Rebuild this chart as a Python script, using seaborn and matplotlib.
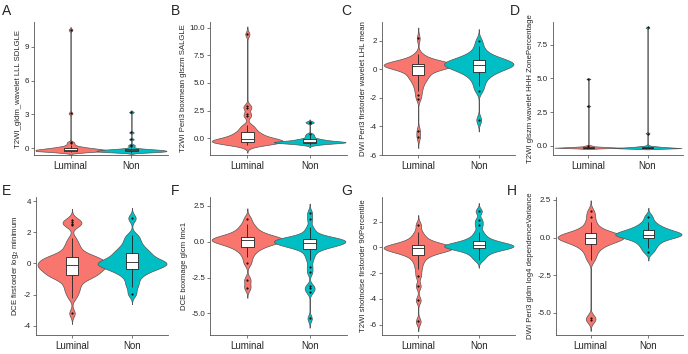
import numpy as np
import pandas as pd
import seaborn as sns
import matplotlib.pyplot as plt
from matplotlib.ticker import FormatStrFormatter

groups = ['Luminal', 'Non']
letters = ['A', 'B', 'C', 'D', 'E', 'F', 'G', 'H']
ylabels = ['T2WI_gldm_wavelet LLL SDLGLE',
           'T2WI Peri3 boxmean glszm SALGLE',
           'DWI Peri3 firstorder wavelet LHL mean',
           'T2WI glszm wavelet HHH ZonePercentage',
           'DCE firstorder log$_2$ minimum',
           'DCE boxmage glcm Imc1',
           'T2WI shotnoise firstorder 90Percentile',
           'DWI Peri3 gldm log4 dependenceVariance']

# values, one list per group and panel
a_lum = [-0.33, -0.31, -0.3, -0.29, -0.28, -0.27, -0.26, -0.25, -0.24, -0.23, -0.22, -0.21, -0.2,
         -0.19, -0.18, -0.17, -0.15, -0.14, -0.12, -0.11, -0.1, -0.09, -0.07, -0.05, -0.04, -0.02,
         0.0, 0.02, 0.05, 0.08, 0.11, 0.15, 0.2, 0.32, 0.45, 0.55, 3.1, 10.5]
a_non = [-0.38, -0.36, -0.35, -0.34, -0.33, -0.32, -0.31, -0.3, -0.29, -0.28, -0.27, -0.26, -0.25,
         -0.24, -0.23, -0.22, -0.21, -0.2, -0.19, -0.18, -0.17, -0.16, -0.15, -0.14, -0.12, -0.11,
         -0.1, -0.08, -0.06, -0.03, 0.05, 0.2, 0.3, 0.8, 1.4, 3.2]
b_lum = [-0.6, -0.55, -0.5, -0.45, -0.42, -0.4, -0.38, -0.35, -0.33, -0.3, -0.28, -0.25, -0.22,
         -0.2, -0.18, -0.15, -0.12, -0.1, -0.05, 0.0, 0.05, 0.1, 0.2, 0.3, 0.35, 0.4, 0.5, 0.6,
         0.75, 0.9, 1.05, 1.2, 2.0, 2.2, 2.75, 2.9, 9.4]
b_non = [-0.6, -0.55, -0.5, -0.48, -0.46, -0.44, -0.42, -0.4, -0.39, -0.38, -0.37, -0.36, -0.35,
         -0.34, -0.33, -0.32, -0.31, -0.3, -0.28, -0.26, -0.25, -0.23, -0.2, -0.18, -0.15, -0.12,
         -0.08, -0.05, 0.0, 0.1, 0.2, 0.3, 0.42, 1.4, 1.5]
c_lum = [-4.75, -4.3, -2.05, -1.8, -1.5, -1.3, -1.1, -0.95, -0.8, -0.7, -0.6, -0.5, -0.45, -0.4,
         -0.3, -0.2, -0.1, -0.05, 0.0, 0.05, 0.1, 0.12, 0.15, 0.18, 0.2, 0.2, 0.22, 0.25, 0.25,
         0.28, 0.3, 0.3, 0.32, 0.33, 0.35, 0.35, 0.38, 0.4, 0.4, 0.42, 0.45, 0.48, 0.5, 0.55,
         0.6, 0.7, 0.8, 0.95, 1.05, 2.15]
c_non = [-3.55, -1.5, -1.2, -0.9, -0.7, -0.5, -0.35, -0.25, -0.2, -0.1, 0.0, 0.05, 0.1, 0.15, 0.2,
         0.25, 0.3, 0.32, 0.35, 0.38, 0.4, 0.45, 0.5, 0.55, 0.6, 0.65, 0.72, 0.78, 0.85, 0.95,
         1.1, 1.3, 1.6, 2.0]
d_lum = [-0.2, -0.2, -0.19, -0.19, -0.18, -0.18, -0.18, -0.17, -0.17, -0.17, -0.16, -0.16, -0.16,
         -0.15, -0.15, -0.15, -0.14, -0.14, -0.13, -0.13, -0.12, -0.12, -0.11, -0.1, -0.09,
         -0.08, -0.05, -0.03, 0.0, 2.95, 4.95]
d_non = [-0.21, -0.2, -0.2, -0.19, -0.19, -0.18, -0.18, -0.17, -0.17, -0.16, -0.16, -0.16, -0.15,
         -0.15, -0.14, -0.14, -0.13, -0.13, -0.12, -0.11, -0.1, -0.08, -0.05, -0.02, 0.9, 8.8]
e_lum = [-3.2, -2.2, -1.9, -1.7, -1.5, -1.3, -1.15, -1.0, -0.9, -0.85, -0.8, -0.75, -0.7, -0.6,
         -0.55, -0.5, -0.45, -0.4, -0.35, -0.3, -0.25, -0.2, -0.15, -0.1, -0.1, -0.05, 0.0, 0.05,
         0.1, 0.15, 0.2, 0.25, 0.3, 0.35, 0.4, 0.45, 0.5, 0.6, 0.75, 0.9, 1.1, 1.3, 1.6, 2.45,
         2.55, 2.65, 2.8]
e_non = [-1.95, -1.5, -1.2, -0.9, -0.7, -0.55, -0.45, -0.35, -0.3, -0.2, -0.15, -0.1, -0.05, 0.0,
         0.05, 0.1, 0.15, 0.2, 0.3, 0.4, 0.5, 0.6, 0.7, 0.8, 0.95, 1.1, 1.3, 1.55, 1.8, 2.9]
f_lum = [-3.2, -2.65, -1.5, -1.1, -0.8, -0.6, -0.45, -0.35, -0.25, -0.15, -0.1, -0.05, 0.0, 0.05,
         0.1, 0.12, 0.15, 0.18, 0.2, 0.25, 0.3, 0.35, 0.45, 0.55, 0.65, 0.8, 1.0, 1.2, 1.6]
f_non = [-5.35, -3.5, -3.25, -3.1, -2.15, -1.75, -1.3, -1.0, -0.8, -0.6, -0.45, -0.4, -0.35, -0.3,
         -0.28, -0.25, -0.2, -0.15, -0.12, -0.1, -0.08, -0.05, 0.0, 0.02, 0.05, 0.08, 0.1, 0.12,
         0.15, 0.18, 0.2, 0.22, 0.25, 0.3, 0.4, 0.55, 0.75, 1.0, 1.55, 2.0]
g_lum = [-5.75, -4.1, -3.0, -2.2, -1.7, -1.3, -1.0, -0.8, -0.6, -0.5, -0.42, -0.35, -0.3, -0.25,
         -0.2, -0.15, -0.1, -0.08, -0.05, -0.02, 0.0, 0.02, 0.05, 0.1, 0.15, 0.2, 0.25, 0.3, 0.4,
         0.55, 0.7, 0.9, 1.2, 1.75]
g_non = [-0.95, -0.7, -0.5, -0.35, -0.25, -0.15, -0.1, -0.05, 0.0, 0.03, 0.06, 0.1, 0.13, 0.16,
         0.2, 0.25, 0.3, 0.38, 0.45, 0.55, 0.7, 0.9, 1.2, 1.7, 2.1, 2.8]
h_lum = [-5.5, -5.35, -1.5, -1.2, -0.95, -0.75, -0.6, -0.5, -0.4, -0.32, -0.25, -0.2, -0.15, -0.1,
         -0.06, -0.03, 0.0, 0.03, 0.06, 0.1, 0.15, 0.2, 0.25, 0.3, 0.35, 0.45, 0.6, 0.8, 1.05,
         1.4, 1.75]
h_non = [-0.95, -0.7, -0.5, -0.35, -0.2, -0.1, -0.02, 0.05, 0.1, 0.15, 0.18, 0.2, 0.23, 0.27,
         0.32, 0.38, 0.45, 0.52, 0.6, 0.7, 0.85, 1.05, 1.4]

panel_values = [(a_lum, a_non), (b_lum, b_non), (c_lum, c_non), (d_lum, d_non),
                (e_lum, e_non), (f_lum, f_non), (g_lum, g_non), (h_lum, h_non)]

yticks = [[0, 3, 6, 9], [0, 2.5, 5, 7.5, 10], [-6, -4, -2, 0, 2], [0, 2.5, 5, 7.5],
          [-4, -2, 0, 2, 4], [-5, -2.5, 0, 2.5], [-6, -4, -2, 0, 2], [-5, -2.5, 0, 2.5]]
yfmt = ['%g', '%.1f', '%g', '%.1f', '%g', '%.1f', '%g', '%.1f']
ylims = [(-0.6, 11.2), (-1.5, 10.5), (-6, 3.3), (-0.7, 9.2),
         (-4.6, 4.26), (-6.5, 3.1), (-6.8, 3.9), (-6.5, 2.7)]
bw_adjust = [1, 0.8, 1, 1, 0.65, 1, 1, 1]

palette = {'Luminal': '#F8766D', 'Non': '#00BFC4'}


def nrd0(kde):
    # R's default bandwidth rule (what ggplot uses)
    x = np.asarray(kde.dataset).ravel()
    sd = x.std(ddof=1)
    q75, q25 = np.percentile(x, [75, 25])
    bw = 0.9 * min(sd, (q75 - q25) / 1.34) * x.size ** -0.2
    return bw / sd


sns.set_style('ticks')
plt.rcParams['font.family'] = ['Liberation Sans', 'DejaVu Sans']
plt.rcParams['axes.unicode_minus'] = False

W, H = 688, 354
fig = plt.figure(figsize=(W / 100, H / 100), dpi=100)

lefts = [34, 210, 382, 553, 36, 210, 382, 556]
rights = [168, 347, 515, 683, 168, 347, 515, 683]
tops = [22] * 4 + [197] * 4
bottoms = [155] * 4 + [335] * 4
letter_x = [2, 171, 341, 510, 2, 171, 341, 507]
letter_y = [4] * 4 + [184] * 4

for i in range(8):
    ax = fig.add_axes([lefts[i] / W, 1 - bottoms[i] / H,
                       (rights[i] - lefts[i]) / W, (bottoms[i] - tops[i]) / H])
    lum, non = panel_values[i]
    df = pd.DataFrame({'group': ['Luminal'] * len(lum) + ['Non'] * len(non),
                       'value': lum + non})

    sns.violinplot(data=df, x='group', y='value', hue='group', palette=palette,
                   legend=False, order=groups, saturation=1, inner=None,
                   density_norm='area', width=1.15, cut=3, bw_method=nrd0,
                   bw_adjust=bw_adjust[i],
                   linewidth=0.5, linecolor='#555555', ax=ax)
    sns.boxplot(data=df, x='group', y='value', order=groups, color='white',
                saturation=1, width=0.2, linewidth=0.6, linecolor='#222222',
                showcaps=False, fliersize=1.2,
                flierprops=dict(marker='o', markerfacecolor='#111111',
                                markeredgecolor='#111111', markersize=1.2,
                                markeredgewidth=0.3),
                ax=ax)

    ax.set_xlim(-0.6, 1.6)
    ax.set_ylim(*ylims[i])
    ax.set_yticks(yticks[i])
    ax.yaxis.set_major_formatter(FormatStrFormatter(yfmt[i]))
    ax.set_xlabel('')
    ax.set_ylabel(ylabels[i], fontsize=5.6, labelpad=2)
    ax.tick_params(axis='y', labelsize=5.8, length=2, width=0.5, pad=1.5, color='#444444')
    ax.tick_params(axis='x', labelsize=7, length=2.5, width=0.5, pad=2, color='#444444')
    for s in ['left', 'bottom']:
        ax.spines[s].set_linewidth(0.6)
        ax.spines[s].set_color('#555555')
    sns.despine(ax=ax)

    fig.text(letter_x[i] / W, 1 - letter_y[i] / H, letters[i], fontsize=10,
             ha='left', va='top')

fig.savefig('out.png', dpi=100)
